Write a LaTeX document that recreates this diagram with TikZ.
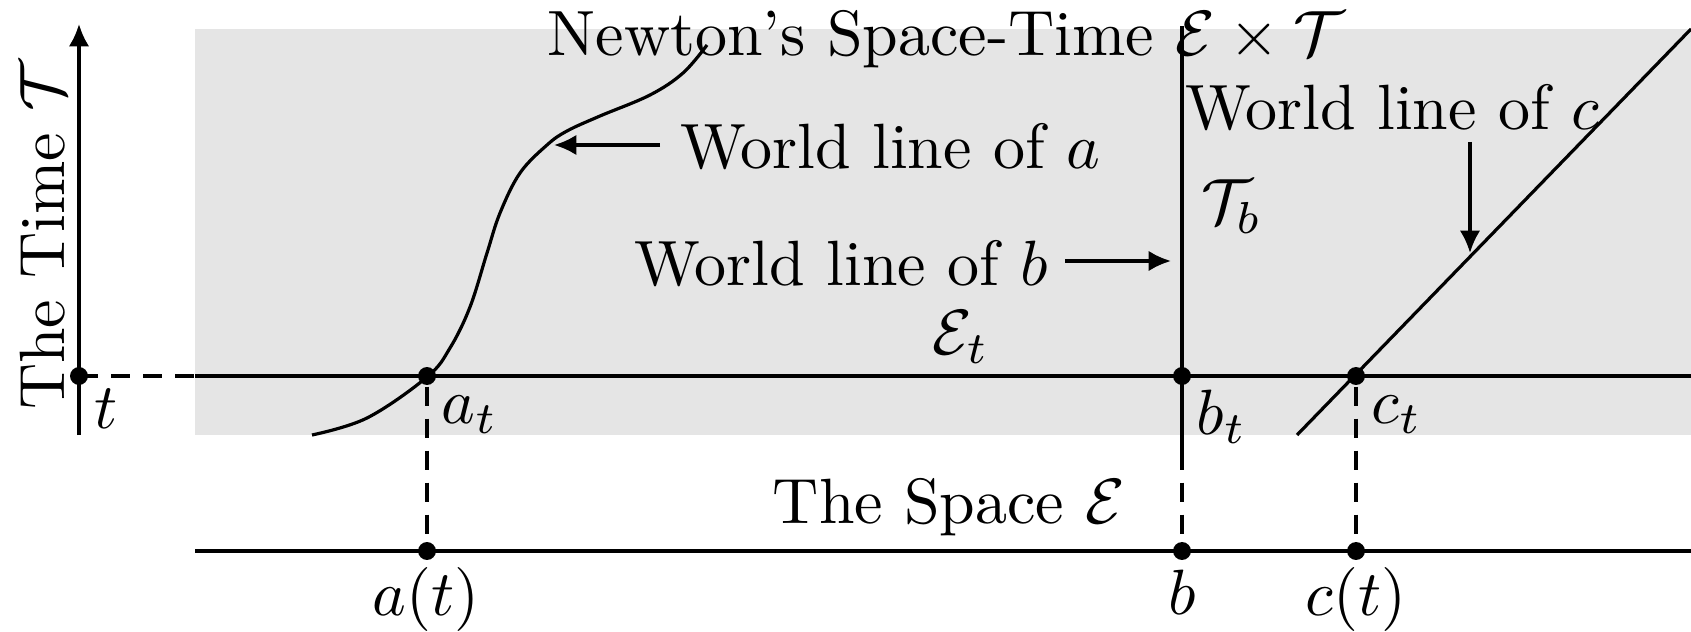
\documentclass[tikz,border=0pt]{standalone}
\usetikzlibrary{arrows.meta}
\begin{document}
\begin{tikzpicture}[x=0.15625pt,y=-0.15625pt,
  line width=0.5pt,
  dot/.style={circle,fill=black,inner sep=0pt,minimum size=2.8pt},
  lbl/.style={inner sep=0pt,anchor=base},
  lblw/.style={inner sep=0pt,anchor=base west},
  arr/.style={-{Latex[length=3.5pt,width=3.2pt]}},
  dsh/.style={dash pattern=on 3pt off 2pt}]
\useasboundingbox (0,0) rectangle (1691,632);
\fill[gray!20] (195,29) rectangle (1691,435);

% coordinates
\coordinate (tbot) at (79,435); \coordinate (ttop) at (79,24);
\coordinate (gl) at (195,376); \coordinate (gr) at (1691,376);
\coordinate (sl) at (195,551); \coordinate (sr) at (1691,551);
\coordinate (btop) at (1182,26); \coordinate (bbot) at (1182,453);
\coordinate (cbot) at (1297,435); \coordinate (ctop) at (1691,29);
\coordinate (watail) at (660,145); \coordinate (watip) at (554,145);
\coordinate (wbtail) at (1065,261); \coordinate (wbtip) at (1171,261);
\coordinate (wctail) at (1470,142); \coordinate (wctip) at (1470,253);

% lines
\draw[arr] (tbot) -- (ttop);
\draw[dsh] (79,376) -- (gl);
\draw (gl) -- (gr);
\draw (sl) -- (sr);
\draw (btop) -- (bbot);
\draw (cbot) -- (ctop);
\draw plot[smooth,tension=0.6] coordinates {(312,435) (367,418) (427,377) (450,348) (470,307) (487,253) (500,213) (520,173) (547,145) (567,131) (600,116) (650,95) (683,73) (707,45)};

% dots
\node[dot] (t) at (79,376) {};
\node[dot] (at) at (427,376) {};
\node[dot] (bt) at (1182,376) {};
\node[dot] (ct) at (1356,376) {};
\node[dot] (a) at (427,551) {};
\node[dot] (b) at (1182,551) {};
\node[dot] (c) at (1356,551) {};

\draw[dsh] (at) -- (a);
\draw[dsh] (bt) -- (b);
\draw[dsh] (ct) -- (c);

% arrows
\draw[arr] (watail) -- (watip);
\draw[arr] (wbtail) -- (wbtip);
\draw[arr] (wctail) -- (wctip);

% labels
\node[lbl] (title) at (946,56) {Newton's Space-Time $\mathcal{E}\times\mathcal{T}$};
\node[lbl] (wa) at (890,169) {World line of $a$};
\node[lbl] (wb) at (841,286) {World line of $b$};
\node[lbl] (wc) at (1392,130) {World line of $c$};
\node[lblw] (Tb) at (1200,224) {$\mathcal{T}_b$};
\node[lbl] (Et) at (961,354) {$\mathcal{E}_t$};
\node[lbl] (space) at (949,523) {The Space $\mathcal{E}$};
\node[lbl,rotate=90] (time) at (65,235) {The Time $\mathcal{T}$};
\node[lblw] (tl) at (93,428) {$t$};
\node[lblw] (atl) at (440,424) {$a_t$};
\node[lblw] (btl) at (1195,434) {$b_t$};
\node[lblw] (ctl) at (1370,424) {$c_t$};
\node[lbl] (al) at (426,615) {$a(t)$};
\node[lbl] (bl) at (1182,614) {$b$};
\node[lbl] (cl) at (1356,615) {$c(t)$};
\end{tikzpicture}
\end{document}
